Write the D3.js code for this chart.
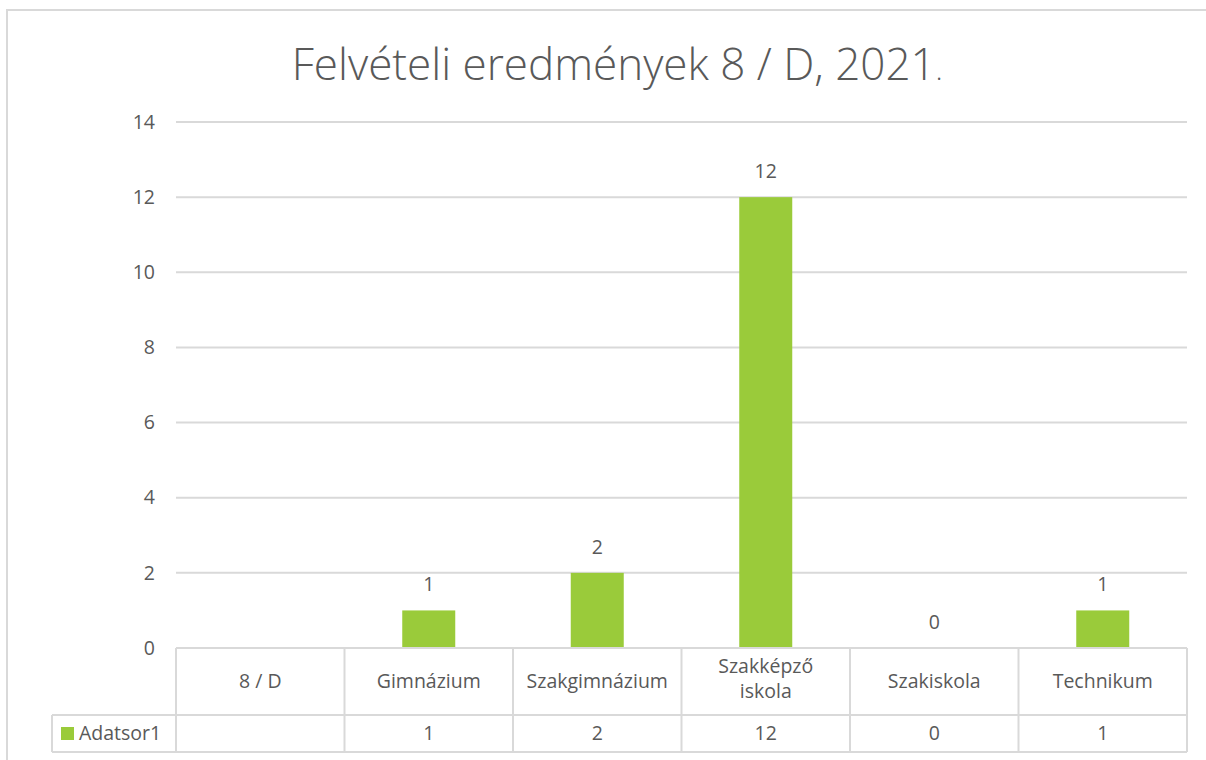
<!DOCTYPE html>
<html>
<head>
<meta charset="utf-8">
<script src="https://cdn.jsdelivr.net/npm/d3@7"></script>
<style>
  body { margin: 0; background: #fff; }
  svg text { font-family: "Open Sans", sans-serif; fill: #595959; }
</style>
</head>
<body>
<svg id="chart" width="1206" height="760"></svg>
<script>
// chart data
var categories = ["8 / D", "Gimnázium", "Szakgimnázium", "Szakképző\niskola", "Szakiskola", "Technikum"];
var values = [null, 1, 2, 12, 0, 1];
var seriesName = "Adatsor1";
var yTicks = [0, 2, 4, 6, 8, 10, 12, 14];
var chartTitle = "Felvételi eredmények 8 / D, 2021";

var barColor = "#9acb3a";
var lineColor = "#d9d9d9";
var fs = "19.5px";

var svg = d3.select("#chart");

// outer chart border
svg.append("rect")
  .attr("x", 7).attr("y", 10)
  .attr("width", 1210).attr("height", 760)
  .attr("fill", "none")
  .attr("stroke", lineColor)
  .attr("stroke-width", 2);

var plotLeft = 176, plotRight = 1187, plotTop = 122, plotBottom = 648;

var x = d3.scaleBand().domain(categories).range([plotLeft, plotRight]);
var y = d3.scaleLinear().domain([0, 14]).range([plotBottom, plotTop]);

// title
var title = svg.append("text")
  .attr("x", 617).attr("y", 80)
  .attr("text-anchor", "middle")
  .style("font-weight", 300)
  .style("font-size", "44px");
title.append("tspan").text(chartTitle);
title.append("tspan").style("font-size", "28px").text(".");

// y axis labels
var yAxis = d3.axisLeft(y).tickValues(yTicks).tickSize(0).tickPadding(21);
var gAxis = svg.append("g").attr("transform", "translate(" + plotLeft + ",0)").call(yAxis);
gAxis.select(".domain").remove();
gAxis.selectAll("text").style("font-size", fs).attr("fill", "#595959").style("font-family", "'Open Sans', sans-serif");

// gridlines
svg.append("g").selectAll("line")
  .data(yTicks.filter(d => d > 0))
  .join("line")
  .attr("x1", plotLeft).attr("x2", plotRight)
  .attr("y1", d => y(d)).attr("y2", d => y(d))
  .attr("stroke", lineColor).attr("stroke-width", 2);

// bars
var bw = 53;
var barData = categories.map((c, i) => ({ c: c, v: values[i] })).filter(d => d.v !== null);
svg.append("g").selectAll("rect")
  .data(barData)
  .join("rect")
  .attr("x", d => x(d.c) + x.bandwidth() / 2 - bw / 2)
  .attr("y", d => y(d.v))
  .attr("width", bw)
  .attr("height", d => y(0) - y(d.v))
  .attr("fill", barColor);

// data labels
svg.append("g").selectAll("text")
  .data(barData)
  .join("text")
  .attr("x", d => x(d.c) + x.bandwidth() / 2)
  .attr("y", d => y(d.v) - 19)
  .attr("text-anchor", "middle")
  .style("font-size", fs)
  .text(d => d.v);

// data table
var rowTop = plotBottom, rowMid = 715, rowBot = 752, tableLeft = 52;
var tbl = svg.append("g").attr("stroke", lineColor).attr("stroke-width", 2);
tbl.append("line").attr("x1", plotLeft).attr("x2", plotRight).attr("y1", rowTop).attr("y2", rowTop);
tbl.append("line").attr("x1", tableLeft).attr("x2", plotRight).attr("y1", rowMid).attr("y2", rowMid);
tbl.append("line").attr("x1", tableLeft).attr("x2", plotRight).attr("y1", rowBot).attr("y2", rowBot);
tbl.append("line").attr("x1", tableLeft).attr("x2", tableLeft).attr("y1", rowMid).attr("y2", rowBot);
tbl.selectAll("line.v")
  .data(categories.map(c => x(c)).concat([plotRight]))
  .join("line")
  .attr("class", "v")
  .attr("x1", d => d).attr("x2", d => d)
  .attr("y1", rowTop).attr("y2", rowBot);

// category labels
var cat = svg.append("g").selectAll("text")
  .data(categories)
  .join("text")
  .attr("x", d => x(d) + x.bandwidth() / 2)
  .attr("text-anchor", "middle")
  .style("font-size", fs)
  .attr("y", d => d.indexOf("\n") >= 0 ? 673 : 688);
cat.each(function (d) {
  var t = d3.select(this);
  d.split("\n").forEach((l, i) => {
    t.append("tspan").attr("x", x(d) + x.bandwidth() / 2).attr("dy", i === 0 ? 0 : 25).text(l);
  });
});

// value row
svg.append("g").selectAll("text")
  .data(barData)
  .join("text")
  .attr("x", d => x(d.c) + x.bandwidth() / 2)
  .attr("y", 740)
  .attr("text-anchor", "middle")
  .style("font-size", fs)
  .text(d => d.v);

// legend key in table
svg.append("rect")
  .attr("x", 61).attr("y", 727)
  .attr("width", 13).attr("height", 13)
  .attr("fill", barColor);
svg.append("text")
  .attr("x", 79).attr("y", 740)
  .style("font-size", fs)
  .text(seriesName);
</script>
</body>
</html>
